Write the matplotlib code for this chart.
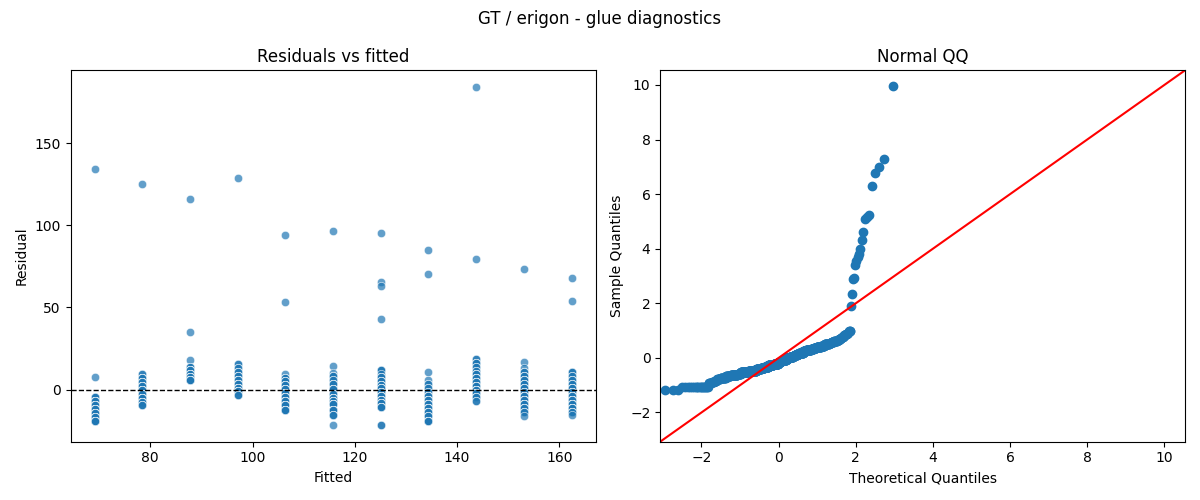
import numpy as np
import matplotlib
matplotlib.use("Agg")
import matplotlib.pyplot as plt
from statistics import NormalDist

# fitted value of each group (11 levels)
fitted_levels = [69.1, 78.4, 87.8, 97.1, 106.4, 115.8, 125.1, 134.4, 143.7, 153.1, 162.4]

# bulk residuals per group: residual level -> how many points sit there
lev_g1 = [7.7, -4.5, -6.9, -9.3, -11.7, -14.1, -16.5, -19.2]
cnt_g1 = [1, 4, 11, 11, 10, 7, 5, 10]
lev_g2 = [9.5, 7.1, 4.7, 2.3, -0.1, -2.5, -4.9, -7.3, -9.7]
cnt_g2 = [2, 6, 5, 7, 7, 7, 8, 9, 3]
lev_g3 = [18.2, 13.9, 11.8, 9.7, 7.6, 5.5]
cnt_g3 = [1, 3, 6, 7, 10, 13]
lev_g4 = [15.6, 13.2, 10.8, 8.4, 6.0, 3.6, 1.2, -1.2, -3.2]
cnt_g4 = [2, 2, 3, 4, 9, 11, 9, 8, 3]
lev_g5 = [9.7, 7.3, 4.9, 2.5, 0.1, -2.3, -4.7, -7.1, -9.5, -12.4]
cnt_g5 = [1, 3, 4, 5, 6, 5, 10, 10, 10, 6]
lev_g6 = [14.6, 10.0, 8.1, 5.7, 3.5, 0.4, -2.6, -5.0, -7.1, -9.1, -12.2, -15.8, -21.5]
cnt_g6 = [1, 1, 3, 2, 4, 6, 6, 8, 7, 10, 7, 3, 1]
lev_g7 = [12.0, 9.7, 7.6, 5.3, 3.0, 0.7, -1.6, -3.9, -6.2, -8.5, -10.8, -21.5]
cnt_g7 = [3, 1, 3, 4, 5, 5, 5, 7, 8, 10, 6, 2]
lev_g8 = [10.5, 5.7, 3.3, 0.9, -1.5, -3.9, -6.3, -8.7, -11.1, -13.5, -15.9, -19.3]
cnt_g8 = [1, 1, 2, 2, 2, 7, 8, 11, 9, 6, 3, 8]
lev_g9 = [18.4, 16.2, 13.8, 11.4, 9.2, 7.0, 4.6, 2.3, 0.0, -2.3, -4.5, -6.7]
cnt_g9 = [2, 3, 2, 2, 4, 6, 6, 9, 8, 8, 3, 2]
lev_g10 = [16.6, 13.0, 10.4, 8.0, 5.6, 3.2, 0.8, -1.6, -4.0, -6.4, -8.8, -11.2, -13.6, -16.0]
cnt_g10 = [1, 1, 3, 3, 4, 4, 4, 4, 8, 8, 10, 5, 3, 1]
lev_g11 = [10.6, 8.2, 5.8, 3.4, 1.0, -1.4, -3.8, -6.2, -8.6, -11.0, -13.4, -15.8]
cnt_g11 = [3, 2, 3, 3, 5, 5, 8, 9, 11, 6, 4, 1]

# large positive residuals per group
out_g1 = [134.5]
out_g2 = [125.0]
out_g3 = [116.0, 35.0]
out_g4 = [129.0]
out_g5 = [94.0, 53.5]
out_g6 = [96.5]
out_g7 = [95.0, 65.5, 63.0, 43.0]
out_g8 = [85.0, 70.5]
out_g9 = [184.0, 79.5]
out_g10 = [73.5]
out_g11 = [68.0, 54.0]

levels = [lev_g1, lev_g2, lev_g3, lev_g4, lev_g5, lev_g6, lev_g7, lev_g8, lev_g9, lev_g10, lev_g11]
counts = [cnt_g1, cnt_g2, cnt_g3, cnt_g4, cnt_g5, cnt_g6, cnt_g7, cnt_g8, cnt_g9, cnt_g10, cnt_g11]
outliers = [out_g1, out_g2, out_g3, out_g4, out_g5, out_g6, out_g7, out_g8, out_g9, out_g10, out_g11]

groups = [np.concatenate([o, np.repeat(l, c)]) for l, c, o in zip(levels, counts, outliers)]
fitted = np.concatenate([np.full(len(g), f) for f, g in zip(fitted_levels, groups)])
resid = np.concatenate(groups)

fig, axes = plt.subplots(1, 2, figsize=(12, 5), dpi=100)

ax = axes[0]
ax.scatter(fitted, resid, s=36, alpha=0.7, color="C0", edgecolor="white", linewidth=0.5)
ax.axhline(0, color="black", linestyle="--", linewidth=1)
ax.set_title("Residuals vs fitted")
ax.set_xlabel("Fitted")
ax.set_ylabel("Residual")

# normal QQ of standardized residuals, 45 degree reference line
ax = axes[1]
z = np.sort((resid - resid.mean()) / resid.std())
n = len(z)
nd = NormalDist()
theo = np.array([nd.inv_cdf(i / (n + 1)) for i in range(1, n + 1)])
ax.set_xmargin(0.02)
ax.plot(theo, z, marker="o", linestyle="none", markerfacecolor="C0", markeredgecolor="C0")
lo = min(ax.get_xlim()[0], ax.get_ylim()[0])
hi = max(ax.get_xlim()[1], ax.get_ylim()[1])
ax.plot([lo, hi], [lo, hi], "r")
ax.set_xlim(lo, hi)
ax.set_ylim(lo, hi)
ax.set_title("Normal QQ")
ax.set_xlabel("Theoretical Quantiles")
ax.set_ylabel("Sample Quantiles")

fig.suptitle("GT / erigon - glue diagnostics")
fig.tight_layout()
fig.savefig("out.png")
